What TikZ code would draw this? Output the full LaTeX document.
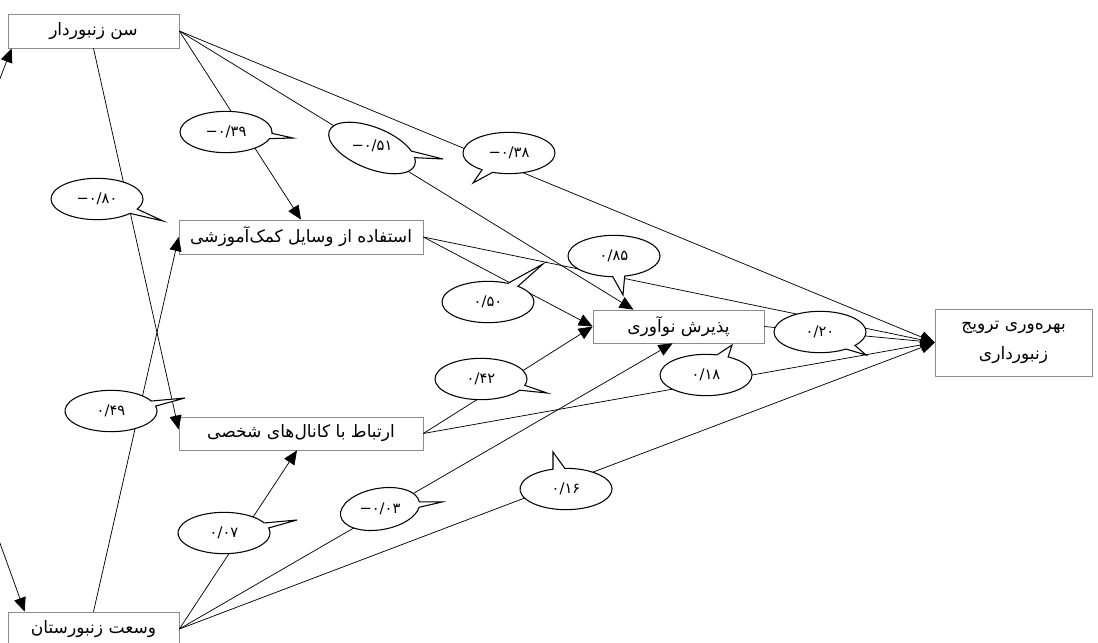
\documentclass[tikz,border=0pt]{standalone}
\usepackage{fontspec}
\newfontfamily\fa[Script=Arabic]{DejaVu Sans}
\TeXXeTstate=1
\usetikzlibrary{arrows.meta,shapes.callouts,calc}
\definecolor{boxgray}{RGB}{140,140,140}
\newcommand\mneg{\mbox{−}}
\begin{document}
\begin{tikzpicture}[x=0.75pt,y=-0.75pt,
  box/.style={draw=boxgray, fill=white, line width=0.5pt, inner sep=0pt, align=center,
    font=\fa\fontsize{12.8}{22.5}\selectfont},
  conn/.style={line width=0.55pt, draw=black},
  tip/.style={-{Triangle[length=10.5pt,width=9pt]}},
  bub/.style={ellipse callout, draw=black, fill=white, line width=0.8pt,
    minimum width=69pt, minimum height=31pt, inner sep=0pt,
    font=\fa\fontsize{11}{12}\selectfont},
  lbl/.style={inner sep=0pt, font=\fa\fontsize{11}{12}\selectfont},
]
\useasboundingbox (0,0) rectangle (1098,642);

% boxes
\node[box, minimum width={171*0.75pt}, minimum height={34*0.75pt}] (sen) at (93.5,31) {\beginR سن زنبوردار\endR};
\node[box, minimum width={244*0.75pt}, minimum height={34*0.75pt}] (est) at (301,237) {\beginR استفاده از وسایل کمک‌آموزشی\endR};
\node[box, minimum width={244*0.75pt}, minimum height={33*0.75pt}] (ert) at (301,433.5) {\beginR ارتباط با کانال‌های شخصی\endR};
\node[box, minimum width={171*0.75pt}, minimum height={34*0.75pt}] (vos) at (93.5,629) {\beginR وسعت زنبورستان\endR};
\node[box, minimum width={171*0.75pt}, minimum height={33*0.75pt}] (paz) at (678.5,326.5) {\beginR پذیرش نوآوری\endR};
\node[box, minimum width={157*0.75pt}, minimum height={67*0.75pt}] (bah) at (1013.5,342.5) {\beginR بهره‌وری ترویج\endR\\\beginR زنبورداری\endR};

\coordinate (offA) at (-30,156);
\coordinate (offB) at (-30,460);

% connectors
\draw[conn,tip] (sen.east) -- (est.north);
\draw[conn,tip] (sen.east) -- ($(paz.north)+(-45,0)$);
\draw[conn,tip] (sen.east) -- (bah.west);
\draw[conn,tip] (sen.south) -- ($(ert.west)+(0,-4)$);
\draw[conn,tip] (est.east) -- (paz.west);
\draw[conn,tip] (est.east) -- (bah.west);
\draw[conn,tip] (ert.east) -- (paz.west);
\draw[conn,tip] (ert.east) -- (bah.west);
\draw[conn,tip] (vos.east) -- ($(ert.south)+(-4,0)$);
\draw[conn,tip] (vos.east) -- ($(paz.south)+(-6,0)$);
\draw[conn,tip] (vos.east) -- (bah.west);
\draw[conn,tip] (vos.north) -- (est.west);
\draw[conn,tip] (paz.east) -- (bah.west);
\draw[conn,{Triangle[length=10.5pt,width=9pt]}-{Triangle[length=10.5pt,width=9pt]}]
  ($(sen.south west)+(4,0)$) -- (offA) -- (offB) -- ($(vos.north west)+(17,0)$);

% callouts
\node[bub, callout absolute pointer={(293,138)}] (c39) at (226,132) {\mneg۰/۳۹};
\node[bub, rotate=-22, callout absolute pointer={(443,159)}] (c51) at (372,148) {};
\node[lbl] (t51) at (372,146) {\mneg۰/۵۱};
\node[bub, callout absolute pointer={(473,183)}] (c38) at (509,153) {\mneg۰/۳۸};
\node[bub, callout absolute pointer={(163,221)}] (c80) at (97,199) {\mneg۰/۸۰};
\node[bub, callout absolute pointer={(185,398)}] (c49) at (111,411) {۰/۴۹};
\node[bub, callout absolute pointer={(543,264)}] (c50) at (488,302) {۰/۵۰};
\node[bub, callout absolute pointer={(623,295)}] (c85) at (614,256) {۰/۸۵};
\node[bub, callout absolute pointer={(547,393)}] (c42) at (481,379) {۰/۴۲};
\node[bub, callout absolute pointer={(732,345)}] (c18) at (706,375) {۰/۱۸};
\node[bub, callout absolute pointer={(866,355)}] (c20) at (820,332) {۰/۲۰};
\node[bub, callout absolute pointer={(297,520)}] (c07) at (224,533) {۰/۰۷};
\node[bub, rotate=10, minimum width={80*0.75pt}, callout absolute pointer={(442,502)}] (c03) at (380,509) {};
\node[lbl] (t03) at (380,509) {\mneg۰/۰۳};
\node[bub, callout absolute pointer={(553,452)}] (c16) at (566,489) {۰/۱۶};
\end{tikzpicture}
\end{document}
